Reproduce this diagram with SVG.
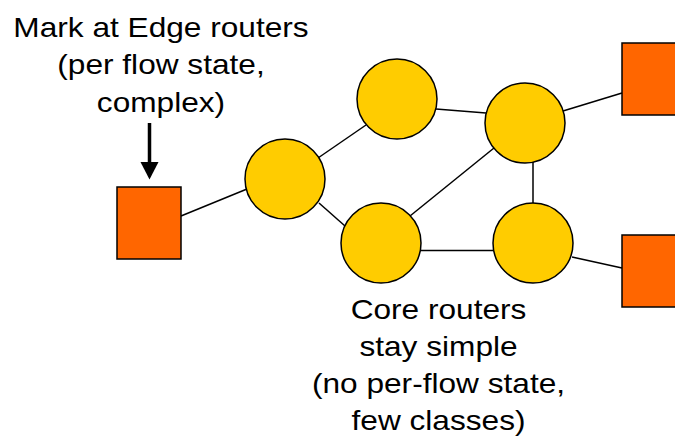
<svg xmlns="http://www.w3.org/2000/svg" width="675" height="440" viewBox="0 0 675 440">
<style>
.lbl{font-family:"Liberation Sans",Arial,sans-serif;font-size:28px;fill:#000;text-anchor:middle}
.core{fill:#FFCC00;stroke:#000;stroke-width:1.5}
.edge{fill:#FF6600;stroke:#000;stroke-width:1.5}
.link{stroke:#000;stroke-width:1.5;fill:none}
</style>
<rect width="675" height="440" fill="#fff"/>
<g id="connectors">
<line class="link" x1="181" y1="216" x2="247" y2="189"/>
<line class="link" x1="318" y1="158" x2="366" y2="125"/>
<line class="link" x1="319" y1="203" x2="345" y2="226"/>
<line class="link" x1="436" y1="109" x2="486" y2="113"/>
<line class="link" x1="563" y1="111" x2="622" y2="93"/>
<line class="link" x1="410" y1="216" x2="494" y2="148"/>
<line class="link" x1="533" y1="162" x2="533" y2="204"/>
<line class="link" x1="420" y1="250.5" x2="494" y2="250.5"/>
<line class="link" x1="572" y1="257" x2="622" y2="268"/>
<line x1="149.5" y1="123" x2="149.5" y2="163" stroke="#000" stroke-width="3.5"/>
<polygon points="140.5,162 158.5,162 149.5,179.5" fill="#000"/>
</g>
<g id="edge-left"><rect class="edge" x="117" y="187" width="64" height="72"/></g>
<g id="edge-top-right"><rect class="edge" x="622" y="43" width="64" height="72"/></g>
<g id="edge-bottom-right"><rect class="edge" x="622" y="235" width="64" height="72"/></g>
<g id="core-1"><circle class="core" cx="285" cy="179" r="40"/></g>
<g id="core-2"><circle class="core" cx="397" cy="99" r="40"/></g>
<g id="core-3"><circle class="core" cx="525" cy="123" r="40"/></g>
<g id="core-4"><circle class="core" cx="381" cy="243" r="40"/></g>
<g id="core-5"><circle class="core" cx="533" cy="243" r="40"/></g>
<g id="label-edge" transform="translate(161,0) scale(1.13,1)">
<text class="lbl" x="0" y="37">Mark at Edge routers</text>
<text class="lbl" x="0" y="74.5">(per flow state,</text>
<text class="lbl" x="0" y="112">complex)</text>
</g>
<g id="label-core" transform="translate(438.5,0) scale(1.13,1)">
<text class="lbl" x="0" y="319">Core routers</text>
<text class="lbl" x="0" y="356">stay simple</text>
<text class="lbl" x="0" y="393">(no per-flow state,</text>
<text class="lbl" x="0" y="430">few classes)</text>
</g>
</svg>
